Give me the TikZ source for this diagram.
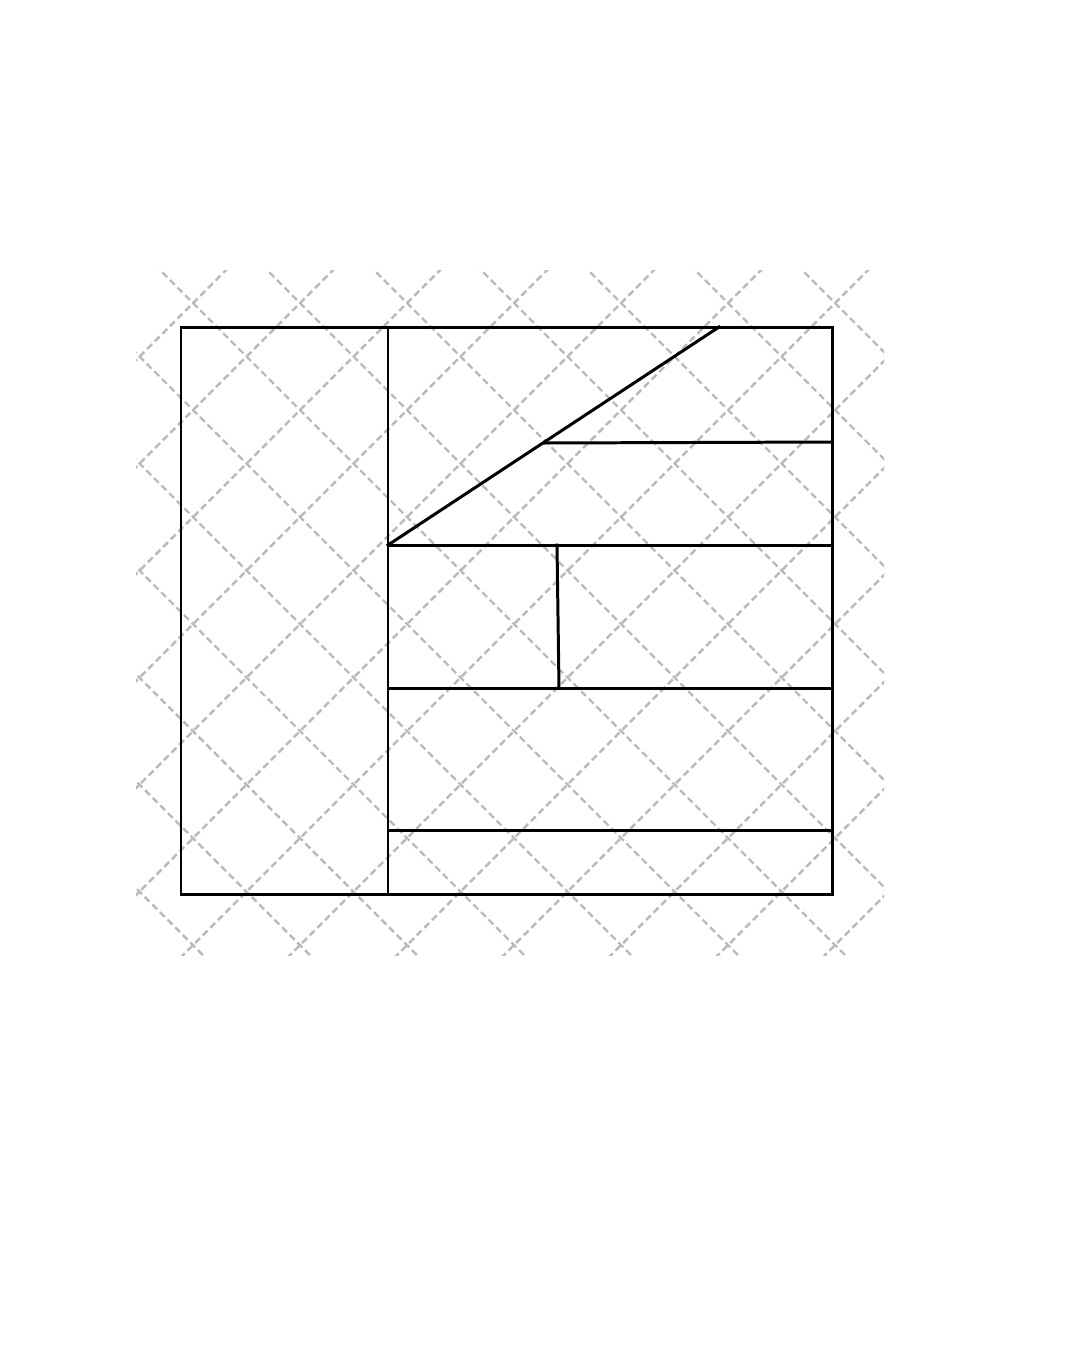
\documentclass[tikz,border=0pt]{standalone}
\usepackage{xcolor}
\usepackage{tikz}

\begin{document}
\begin{tikzpicture}
[x=0.02cm,y=-0.02cm,
wall/.style={draw=black,line width=1.7pt,line cap=rect},
hatch/.style={draw=black!27,line width=1.4pt,dash pattern=on 3.9pt off 2.23pt,dash phase=-1.95pt}]
\useasboundingbox (0,0) rectangle (1080,1350);
% background lattice
\begin{scope}
\clip (136,270) rectangle (884,955);
\foreach \k in {-7,...,7}
  \draw[hatch] (193+107*\k-749,303-749) -- (193+107*\k+749,303+749);
\foreach \k in {-1,...,13}
  \draw[hatch] (193+107*\k-749,303+749) -- (193+107*\k+749,303-749);
\end{scope}
% corners
\coordinate (nw) at (181,327);
\coordinate (se) at (832,894);
\coordinate (wt) at (388,327);
\coordinate (wb) at (388,894);
\coordinate (rt) at (719,327);
\coordinate (ma) at (388,545);
\coordinate (mb) at (832,545);
\coordinate (sa) at (544,443);
\coordinate (sb) at (832,442);
\coordinate (pa) at (557,545);
\coordinate (pb) at (559,688);
\coordinate (la) at (388,688);
\coordinate (lb) at (832,688);
\coordinate (ba) at (388,830);
\coordinate (bb) at (832,830);
% walls
\draw[wall] (nw) rectangle (se);
\draw[wall] (wt) -- (wb);
\draw[wall] (ma) -- (rt);
\draw[wall] (sa) -- (sb);
\draw[wall] (ma) -- (mb);
\draw[wall] (pa) -- (pb);
\draw[wall] (la) -- (lb);
\draw[wall] (ba) -- (bb);
\end{tikzpicture}
\end{document}
